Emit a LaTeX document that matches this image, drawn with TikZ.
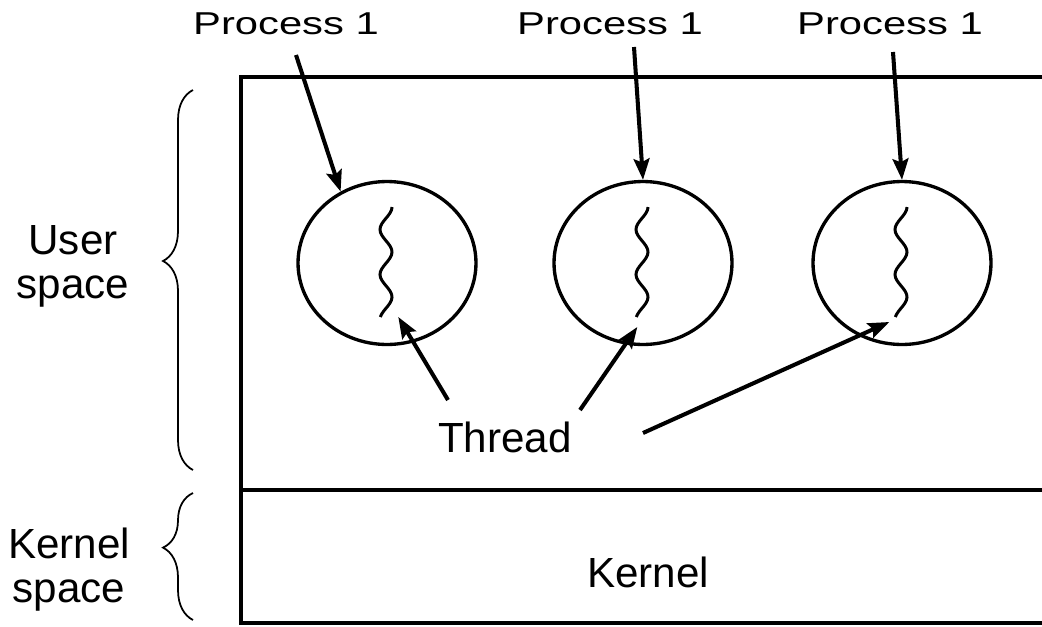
\documentclass[tikz,border=0pt]{standalone}
\usepackage{fontspec}
\setmainfont{Liberation Sans}
\usetikzlibrary{shapes.geometric,arrows.meta,decorations.pathreplacing}
% wide label text for the process captions
\newcommand{\widetext}[1]{\scalebox{1.32}[1]{#1}}
\begin{document}
\begin{tikzpicture}[x=0.02cm,y=-0.02cm,
  frame/.style={line width=2pt},
  proc/.style={ellipse, draw, line width=1.9pt, minimum width=3.56cm,
    minimum height=3.26cm, inner sep=0pt},
  thr/.style={line width=1.7pt},
  ptr/.style={line width=2.3pt, -{Stealth[length=12pt,width=9pt,inset=2pt]}},
  lbl/.style={font=\fontsize{24}{25}\selectfont, align=center, inner sep=0pt},
  plbl/.style={font=\fontsize{18}{20}\selectfont, inner sep=0pt},
  brc/.style={decorate, decoration={brace, amplitude=0.6cm}, line width=1pt}]
\useasboundingbox (0,0) rectangle (1042,626);
\clip (0,0) rectangle (1042,626);

% address space box, open to the right
\draw[frame] (1060,77) -- (241,77) -- (241,623) -- (1060,623);
\draw[frame] (241,490) -- (1060,490);

% processes, each with a single thread
\foreach \n/\cx in {1/387,2/643,3/902}{
  \node[proc] (c\n) at (\cx,263) {};
  \draw[thr] plot[smooth, domain=0:110, samples=40]
    ({\cx - 1 + 6*cos(\x*8)}, {207+\x});
  \coordinate (t\n) at (\cx-0.7,317);
}

% labels
\node[plbl] (p1) at (286,24) {\widetext{Process 1}};
\node[plbl] (p2) at (610,24) {\widetext{Process 1}};
\node[plbl] (p3) at (890,24) {\widetext{Process 1}};
\node[lbl] (th) at (505,437) {Thread};
\node[lbl] (kn) at (648,572) {Kernel};
\node[lbl] (us) at (73,266) {User\\space};
\node[lbl] (ks) at (69,570) {Kernel\\space};

% process pointers
\draw[ptr] ([shift={(10,31)}]p1.center) -- (c1.123);
\draw[ptr] ([shift={(24,23)}]p2.center) -- (c2.north);
\draw[ptr] ([shift={(3,28)}]p3.center) -- (c3.north);

% thread pointers
\draw[ptr] ([shift={(-57,-37)}]th.center) -- ([shift={(12,0)}]t1);
\draw[ptr] ([shift={(75,-27)}]th.center) -- ([shift={(-5,10)}]t2);
\draw[ptr] ([shift={(138,-4)}]th.center) -- ([shift={(-12,5)}]t3);

% braces
\draw[brc, decoration={aspect=0.55}] (193,470) -- (193,90);
\draw[brc, decoration={aspect=0.57}] (193,620) -- (193,493);
\end{tikzpicture}
\end{document}
